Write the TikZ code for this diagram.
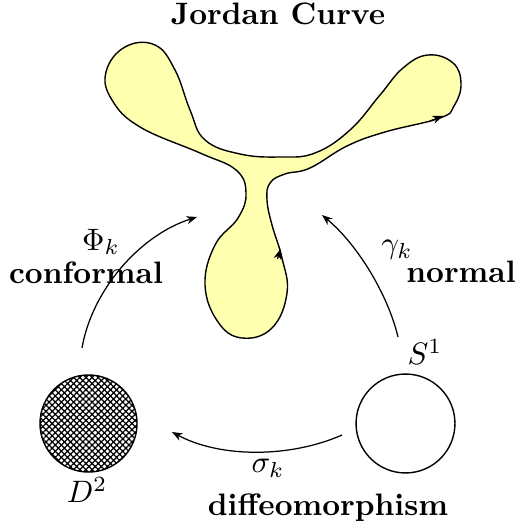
\documentclass[tikz,border=0pt]{standalone}
\usepackage{tikz}
\usetikzlibrary{arrows.meta,patterns.meta}

\definecolor{curvefill}{RGB}{255,255,176}
\tikzset{
  maparrow/.style={line width=0.4pt, -{Stealth[length=3.4pt, width=2.6pt]}},
  lbl/.style={inner sep=0pt, font=\bfseries},
}

\begin{document}
\begin{tikzpicture}[x=0.3225pt,y=-0.3225pt]
\useasboundingbox (0,0) rectangle (516,531);
\node[lbl] (title) at (278,14) {Jordan Curve};
\filldraw[fill=curvefill, draw=black, line width=0.45pt] plot[smooth cycle, tension=0.7] coordinates {
  (287,293) (282,258) (272,225) (267,200) (270,183) (285,174) (310,168)
  (347,146) (385,132) (440,118) (454,106) (461,84) (453,63)
  (428,55) (403,68) (380,95) (350,130) (315,153) (280,157) (240,154)
  (205,140) (190,110) (175,70) (155,45) (125,47) (106,72) (112,100)
  (140,127) (200,153) (236,170) (246,193) (238,218) (215,245)
  (205,285) (218,322) (242,338) (272,328)};
\draw[maparrow] (277.5,259) -- (280.5,249);
\draw[maparrow] (430,121) -- (443,116);
\node[circle, draw, line width=0.45pt, minimum size=31.3pt, inner sep=0pt,
  pattern={Hatch[angle=45, distance=1.4pt, line width=0.4pt]}] (disk) at (88.5,423.5) {};
\node[circle, draw, line width=0.45pt, minimum size=31.9pt, inner sep=0pt] (circ) at (405.5,423.5) {};
\coordinate (phiend) at (197,217);
\coordinate (gamend) at (322,215);
\coordinate (sigend) at (172,432);
\coordinate (phistart) at (82,348);
\coordinate (gamstart) at (398,337);
\coordinate (sigstart) at (342,435);
\draw[maparrow] (phistart) .. controls (92,290) and (140,235) .. (phiend);
\draw[maparrow] (gamstart) .. controls (388,295) and (358,245) .. (gamend);
\draw[maparrow] (sigstart) .. controls (290,458) and (220,458) .. (sigend);
\node (phi) at (101,242) {$\Phi_k$};
\node[lbl] (conf) at (86,273) {conformal};
\node (gam) at (397,250) {$\gamma_k$};
\node[lbl] (norm) at (461,272) {normal};
\node (sone) at (425,352) {$S^1$};
\node (dtwo) at (87,490) {$D^2$};
\node (sig) at (268,468) {$\sigma_k$};
\node[lbl] (diffeo) at (328,508) {diffeomorphism};
\end{tikzpicture}
\end{document}
